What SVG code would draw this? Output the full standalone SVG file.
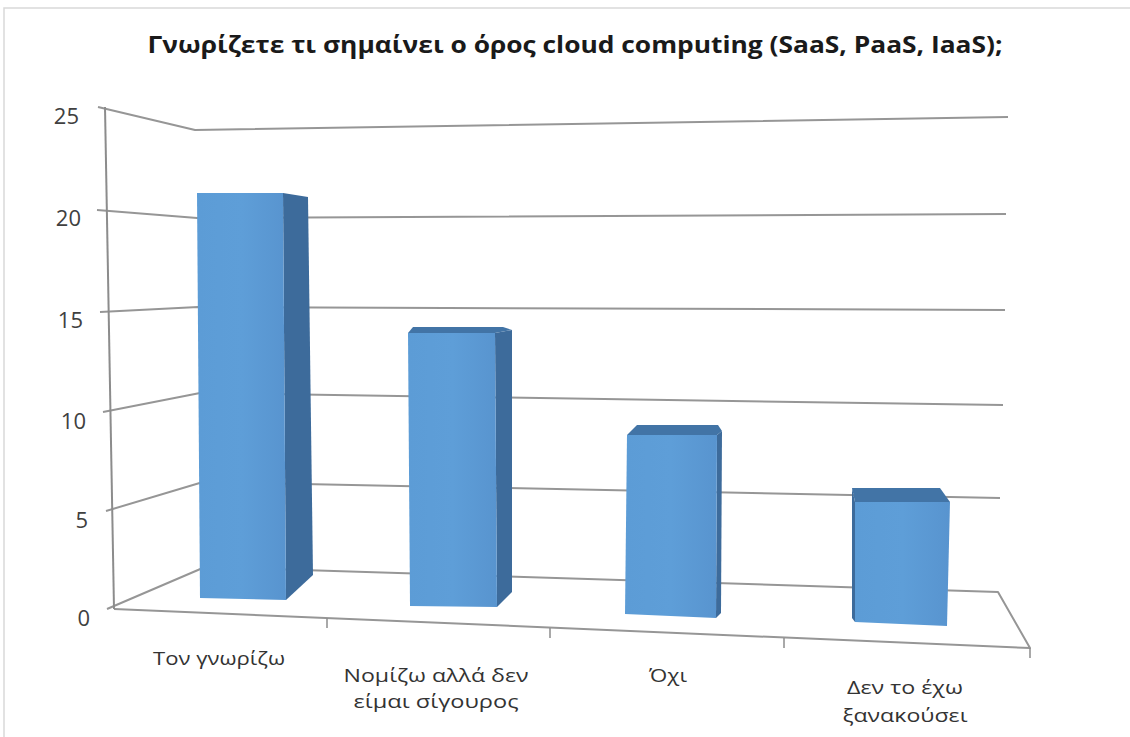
<svg xmlns="http://www.w3.org/2000/svg" width="1130" height="737" viewBox="0 0 1130 737">
  <style>
    .frame { fill: none; stroke: #d9d9d9; stroke-width: 1.5; }
    .grid { fill: none; stroke: #969696; stroke-width: 2; stroke-linejoin: round; }
    .axis { fill: none; stroke: #8c8c8c; stroke-width: 2; }
    .tick { fill: none; stroke: #8c8c8c; stroke-width: 1.5; }
    .title { font-family: "Open Sans", "Noto Sans", sans-serif; font-weight: bold; font-size: 24px; fill: #1a1a1a; }
    .ylab { font-family: "Open Sans", "Noto Sans", sans-serif; font-size: 22px; fill: #404040; text-anchor: end; }
    .xlab { font-family: "Open Sans", "Noto Sans", sans-serif; font-size: 19px; fill: #333333; text-anchor: middle; }
    .front { fill: url(#frontGrad); }
    .side { fill: #3d6b9b; }
    .top { fill: #4274a6; }
  </style>
  <defs>
    <linearGradient id="frontGrad" x1="0" y1="0" x2="1" y2="0">
      <stop offset="0" stop-color="#5c9cd6"/>
      <stop offset="0.5" stop-color="#5e9ed8"/>
      <stop offset="1" stop-color="#5894cf"/>
    </linearGradient>
  </defs>

  <rect width="1130" height="737" fill="#ffffff"/>
  <!-- outer chart border -->
  <path class="frame" d="M4,737 V8 H1130"/>

  <text class="title" x="575" y="53" text-anchor="middle" textLength="855" lengthAdjust="spacingAndGlyphs">Γνωρίζετε τι σημαίνει ο όρος cloud computing (SaaS, PaaS, IaaS);</text>

  <!-- walls, gridlines and floor -->
  <g id="connectors">
    <polyline class="grid" points="98,107 195,130 1008,117"/>
    <polyline class="grid" points="97,210 197,218 1006,214"/>
    <polyline class="grid" points="100,312 198,307 1005,310"/>
    <polyline class="grid" points="103,412 200,393 1003,405"/>
    <polyline class="grid" points="106,511 203,482 1000,498"/>
    <polyline class="grid" points="107,609 205,567 998,592 1030,648 114,609"/>
    <line class="axis" x1="105" y1="107" x2="114" y2="609"/>
    <line class="tick" x1="327" y1="618" x2="327" y2="628"/>
    <line class="tick" x1="550" y1="628" x2="550" y2="638"/>
    <line class="tick" x1="784" y1="638" x2="784" y2="648"/>
    <line class="tick" x1="1030" y1="648" x2="1030" y2="658"/>
  </g>

  <!-- value axis labels -->
  <g id="y-labels">
    <text class="ylab" x="79" y="124">25</text>
    <text class="ylab" x="81" y="226">20</text>
    <text class="ylab" x="83" y="328">15</text>
    <text class="ylab" x="86" y="429">10</text>
    <text class="ylab" x="88" y="528">5</text>
    <text class="ylab" x="90" y="626">0</text>
  </g>

  <!-- bars -->
  <g id="bar-ton-gnorizo">
    <polygon class="side" points="283,193 308,197 313,575 286,600"/>
    <polygon class="front" points="197,193 283,193 286,600 200,598"/>
  </g>
  <g id="bar-nomizo">
    <polygon class="side" points="495,333 512,330 512,592 497,607"/>
    <polygon class="top" points="413,327 503,327 512,330 495,333 408,333"/>
    <polygon class="front" points="408,333 495,333 497,607 410,606"/>
  </g>
  <g id="bar-ochi">
    <polygon class="side" points="717,435 722,431 721,613 716,618"/>
    <polygon class="top" points="637,425 718,425 722,431 717,435 627,435"/>
    <polygon class="front" points="627,435 717,435 716,618 625,614"/>
  </g>
  <g id="bar-den-to-echo">
    <polygon class="side" points="852,488 855,502 855,622 852,618"/>
    <polygon class="top" points="852,488 940,488 950,502 855,502"/>
    <polygon class="front" points="855,502 950,502 947,626 855,622"/>
  </g>

  <!-- category labels -->
  <g id="x-labels">
    <text class="xlab" x="219" y="665" textLength="132" lengthAdjust="spacingAndGlyphs">Τον γνωρίζω</text>
    <text class="xlab" x="436" y="682" textLength="185" lengthAdjust="spacingAndGlyphs">Νομίζω αλλά δεν</text>
    <text class="xlab" x="436" y="708" textLength="165" lengthAdjust="spacingAndGlyphs">είμαι σίγουρος</text>
    <text class="xlab" x="668" y="682" textLength="38" lengthAdjust="spacingAndGlyphs">Όχι</text>
    <text class="xlab" x="905" y="694" textLength="116" lengthAdjust="spacingAndGlyphs">Δεν το έχω</text>
    <text class="xlab" x="905" y="722" textLength="125" lengthAdjust="spacingAndGlyphs">ξανακούσει</text>
  </g>
</svg>
